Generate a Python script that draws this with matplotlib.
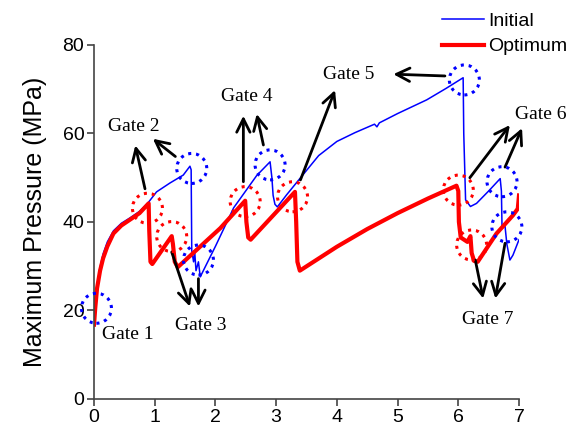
import matplotlib.pyplot as plt
from matplotlib.patches import Ellipse

# time axis and pressure values for both runs
init_t = [0.0, 0.02, 0.05, 0.1, 0.15, 0.22, 0.32, 0.45, 0.59, 0.75, 0.9, 1.03, 1.25, 1.47, 1.58,
          1.6, 1.61, 1.64, 1.66, 1.68, 1.72, 1.75, 2.0, 2.3, 2.68, 2.9,
          2.93, 2.95, 2.98, 3.02, 3.17, 3.39, 3.7, 4.0, 4.3, 4.62, 4.66, 4.7, 5.0, 5.48, 5.8, 6.08,
          6.09, 6.12, 6.2, 6.3, 6.5, 6.69, 6.71, 6.72, 6.77, 6.8, 6.85, 6.9, 7.0]
init_p = [17.5, 21.0, 25.5, 29.8, 32.8, 35.5, 38.0, 39.7, 40.9, 42.4, 44.5, 46.8, 48.8, 50.6, 52.6,
          51.8, 33.5, 31.0, 33.0, 29.0, 31.0, 27.6, 34.5, 43.2, 50.5, 53.6,
          50.0, 46.0, 44.0, 43.4, 46.1, 49.8, 55.0, 58.2, 60.2, 62.1, 61.5, 62.4, 64.5, 67.6, 70.2, 72.6,
          60.0, 45.0, 43.5, 44.2, 47.0, 49.8, 47.0, 39.0, 39.0, 35.0, 31.4, 32.5, 36.0]

opt_t = [0.0, 0.02, 0.05, 0.1, 0.15, 0.22, 0.32, 0.45, 0.59, 0.75, 0.9,
         0.91, 0.93, 0.96, 1.28, 1.3, 1.33, 1.38, 2.08, 2.49,
         2.51, 2.54, 2.58, 3.31, 3.33, 3.35, 3.39, 4.0, 4.5, 5.0, 5.5, 5.97,
         6.0, 6.01, 6.04, 6.15, 6.2, 6.22, 6.26, 6.32, 6.63, 6.9, 6.98, 7.0]
opt_p = [16.8, 20.5, 25.0, 29.0, 31.8, 34.5, 37.4, 39.2, 40.5, 42.0, 44.2,
         38.0, 31.0, 30.5, 36.8, 35.0, 31.0, 29.8, 38.6, 44.8,
         40.0, 36.5, 36.0, 46.8, 40.0, 31.0, 29.0, 34.4, 38.4, 42.0, 45.3, 48.2,
         47.0, 40.0, 36.5, 35.5, 36.8, 33.0, 31.2, 31.0, 37.4, 41.5, 43.0, 46.0]

# gate markers (x, y) on each curve
blue_gates = [(0.04, 20.5), (1.61, 52.1), (1.72, 31.4), (2.9, 52.9), (6.1, 72.1), (6.72, 49.1), (6.8, 38.9)]
red_gates = [(0.88, 43.1), (1.28, 36.7), (2.49, 44.6), (3.27, 45.7), (6.0, 47.2), (6.22, 34.8)]

# gate labels and their arrows: (text, text pos, [(tail, head), ...])
gate_notes = [
    ("Gate 1", (0.56, 14.5), []),
    ("Gate 2", (0.65, 61.5), [((0.84, 47.5), (0.68, 57.3)), ((1.34, 54.8), (0.97, 58.8))]),
    ("Gate 3", (1.75, 16.6), [((1.28, 33.2), (1.58, 20.9)), ((1.72, 27.2), (1.72, 20.9))]),
    ("Gate 4", (2.52, 68.3), [((2.46, 49.1), (2.46, 64.0)), ((2.79, 57.4), (2.68, 64.4))]),
    ("Gate 5", (4.19, 73.4), [((3.4, 49.5), (3.97, 69.8)), ((5.78, 73.0), (4.93, 73.4))]),
    ("Gate 6", (7.35, 64.2), [((6.19, 50.0), (6.85, 61.9)), ((6.77, 52.4), (7.05, 61.2))]),
    ("Gate 7", (6.49, 18.0), [((6.28, 31.4), (6.41, 22.7)), ((6.77, 35.2), (6.61, 22.7))]),
]

fig = plt.figure(figsize=(5.81, 4.28), dpi=100)
ax = fig.add_axes([0.1618, 0.0678, 0.7315, 0.8271])

ax.plot(init_t, init_p, color='#0000ff', lw=1.1, label='Initial')
ax.plot(opt_t, opt_p, color='#ff0000', lw=3.0, label='Optimum')

# dotted circles, ~30 px across
cw = 30 / 60.7
ch = 30 / 4.425
for gx, gy in blue_gates:
    ax.add_patch(Ellipse((gx, gy), cw, ch, fill=False, edgecolor='#0000ff',
                         lw=2.2, linestyle=(0, (1, 1.6)), clip_on=False, zorder=4))
for gx, gy in red_gates:
    ax.add_patch(Ellipse((gx, gy), cw, ch, fill=False, edgecolor='#ff0000',
                         lw=2.2, linestyle=(0, (1, 1.6)), clip_on=False, zorder=4))

for txt, pos, arrows in gate_notes:
    ax.text(pos[0], pos[1], txt, family='Liberation Serif', fontsize=14,
            ha='center', va='center', zorder=5)
    for tail, head in arrows:
        ax.annotate('', xy=head, xytext=tail, annotation_clip=False,
                    arrowprops=dict(arrowstyle='->', color='black', lw=2.0,
                                    mutation_scale=24, shrinkA=0, shrinkB=0))

ax.set_xlim(0, 7)
ax.set_ylim(0, 80)
ax.set_xticks(range(0, 8))
ax.set_yticks([0, 20, 40, 60, 80])
for s in ['top', 'right']:
    ax.spines[s].set_visible(False)
for s in ['left', 'bottom']:
    ax.spines[s].set_color('#444444')
    ax.spines[s].set_linewidth(1.2)
ax.tick_params(direction='out', length=5, width=1.2, color='#444444',
               labelsize=14, pad=2)
for lab in ax.get_xticklabels() + ax.get_yticklabels():
    lab.set_family('Liberation Sans')
ax.set_ylabel('Maximum Pressure (MPa)', family='Liberation Sans', fontsize=18, labelpad=11)

ax.legend(loc='upper left', bbox_to_anchor=(0.80, 1.115), frameon=False,
          prop={'family': 'Liberation Sans', 'size': 14}, handlelength=2.17,
          handletextpad=0.2, labelspacing=0.42, borderaxespad=0)

fig.savefig('out.png', dpi=100)
